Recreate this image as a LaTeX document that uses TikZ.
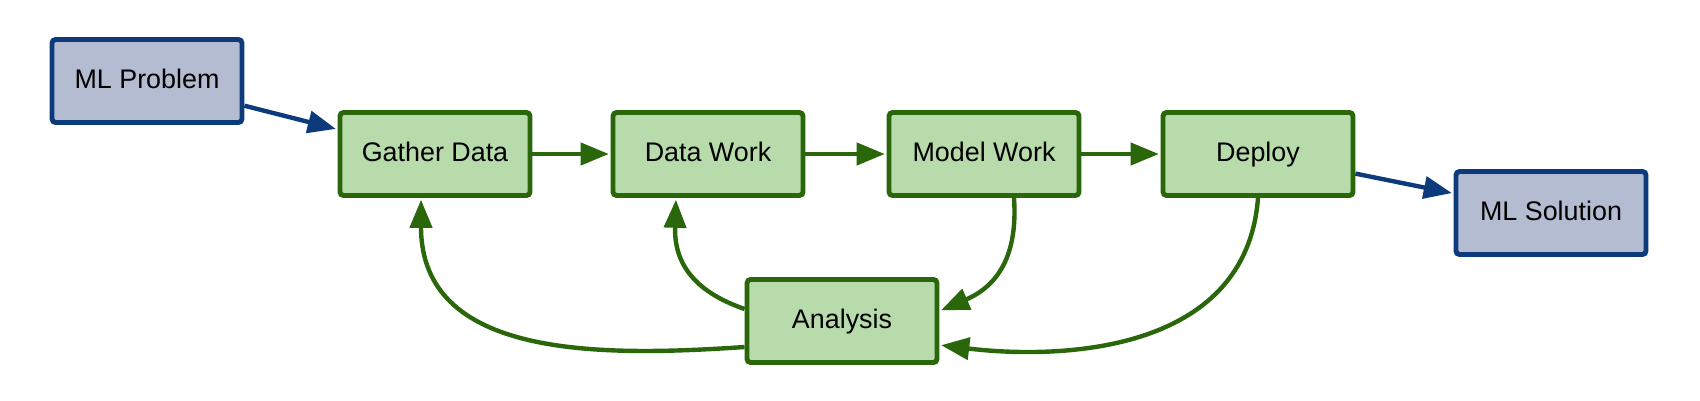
\documentclass[tikz,border=0pt]{standalone}
\usepackage{fontspec}
\setmainfont{Liberation Sans}
\usetikzlibrary{arrows.meta,calc}
\definecolor{gline}{RGB}{42,102,10}
\definecolor{gfill}{RGB}{183,219,170}
\definecolor{bline}{RGB}{12,58,122}
\definecolor{bfill}{RGB}{179,188,208}
\tikzset{
  box/.style={rectangle, rounded corners=2pt, line width=2.8pt, minimum width=3.8cm, minimum height=1.66cm, inner sep=0pt, text height=1.08em, text depth=0.18em, font=\fontsize{15.3pt}{18pt}\selectfont},
  gbox/.style={box, draw=gline, fill=gfill},
  bbox/.style={box, draw=bline, fill=bfill},
  garr/.style={draw=gline, line width=2.5pt, -{Triangle[length=16pt,width=12.5pt]}, shorten >=1pt},
  barr/.style={draw=bline, line width=2.5pt, -{Triangle[length=16pt,width=12.5pt]}, shorten >=1pt},
}
\begin{document}
\begin{tikzpicture}[x=0.02cm,y=0.02cm]
\useasboundingbox (0,0) rectangle (1700,400);
\node[bbox] (mlp) at (147,319) {ML Problem};
\node[gbox] (gather) at (435,246) {Gather Data};
\node[gbox] (data) at (708,246) {Data Work};
\node[gbox] (model) at (984,246) {Model Work};
\node[gbox] (deploy) at (1258,246) {Deploy};
\node[bbox] (mls) at (1551,187) {ML Solution};
\node[gbox] (analysis) at (842,79) {Analysis};
\draw[barr] (mlp) -- (gather);
\draw[garr] (gather) -- (data);
\draw[garr] (data) -- (model);
\draw[garr] (model) -- (deploy);
\draw[barr] (deploy) -- (mls);
\draw[garr] ($(analysis.west)+(0,-26)$) .. controls +(-147,-10) and +(0,-160) .. ($(gather.south)+(-14,0)$);
\draw[garr] ($(analysis.west)+(0,12)$) .. controls +(-52,18) and +(-2,-64) .. ($(data.south)+(-32,0)$);
\draw[garr] ($(model.south)+(30,0)$) .. controls +(4,-58) and +(58,25) .. ($(analysis.east)+(0,10)$);
\draw[garr] (deploy.south) .. controls +(-12,-158) and +(115,-14) .. ($(analysis.east)+(0,-24)$);
\end{tikzpicture}
\end{document}
